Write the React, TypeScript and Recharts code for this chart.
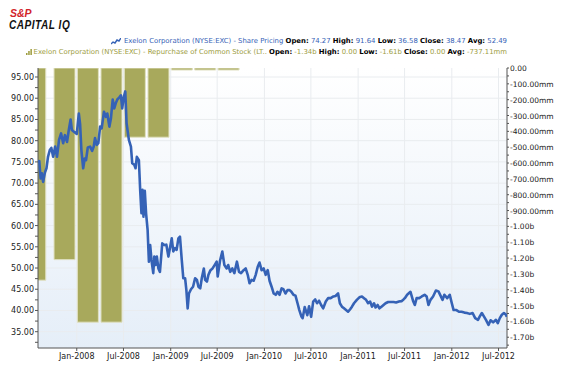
import React from 'react';
import { ComposedChart, LineChart, Line, Bar, XAxis, YAxis, CartesianGrid } from 'recharts';

// Exelon share price (USD)
const sharePrice: [string, number][] = [
  ['2007-08-04', 75.0], ['2007-08-08', 75.2], ['2007-08-13', 71.1], ['2007-08-18', 72.3], ['2007-08-23', 70.3],
  ['2007-08-30', 72.5], ['2007-09-05', 73.5], ['2007-09-11', 76.2], ['2007-09-18', 77.8], ['2007-09-24', 78.3],
  ['2007-10-01', 76.2], ['2007-10-09', 78.6], ['2007-10-16', 76.2], ['2007-10-24', 80.2], ['2007-11-01', 81.7],
  ['2007-11-09', 79.4], ['2007-11-16', 81.3], ['2007-11-24', 79.7], ['2007-12-01', 82.5], ['2007-12-08', 85.0],
  ['2007-12-13', 82.5], ['2007-12-21', 82.1], ['2008-01-01', 81.6], ['2008-01-09', 86.4], ['2008-01-14', 83.9],
  ['2008-01-19', 77.8], ['2008-01-26', 73.5], ['2008-02-01', 75.8], ['2008-02-06', 75.4], ['2008-02-13', 78.4],
  ['2008-02-22', 78.6], ['2008-03-01', 77.6], ['2008-03-07', 78.6], ['2008-03-12', 80.6], ['2008-03-19', 79.0],
  ['2008-03-25', 79.4], ['2008-04-01', 83.3], ['2008-04-07', 82.9], ['2008-04-16', 86.8], ['2008-04-24', 85.6],
  ['2008-04-29', 86.4], ['2008-05-07', 83.3], ['2008-05-13', 85.2], ['2008-05-20', 89.7], ['2008-05-26', 87.6],
  ['2008-06-02', 89.0], ['2008-06-07', 89.7], ['2008-06-15', 90.2], ['2008-06-21', 90.7], ['2008-06-26', 87.6],
  ['2008-07-02', 90.2], ['2008-07-08', 91.6], ['2008-07-13', 84.1], ['2008-07-22', 80.2], ['2008-07-30', 78.6],
  ['2008-08-04', 74.7], ['2008-08-12', 74.3], ['2008-08-17', 73.5], ['2008-08-22', 76.2], ['2008-08-30', 75.4],
  ['2008-09-04', 68.4], ['2008-09-09', 62.9], ['2008-09-13', 68.4], ['2008-09-17', 62.1], ['2008-09-22', 68.2],
  ['2008-09-27', 62.9], ['2008-10-03', 59.0], ['2008-10-08', 51.5], ['2008-10-13', 55.4], ['2008-10-18', 51.9],
  ['2008-10-25', 48.8], ['2008-10-29', 52.7], ['2008-11-03', 50.7], ['2008-11-08', 52.7], ['2008-11-14', 49.9],
  ['2008-11-20', 49.1], ['2008-11-29', 55.8], ['2008-12-07', 55.4], ['2008-12-15', 55.5], ['2008-12-23', 52.7],
  ['2009-01-05', 57.0], ['2009-01-11', 53.9], ['2009-01-18', 54.7], ['2009-01-24', 54.3], ['2009-01-31', 57.0],
  ['2009-02-06', 57.4], ['2009-02-13', 51.9], ['2009-02-19', 47.6], ['2009-02-26', 47.6], ['2009-03-03', 44.8],
  ['2009-03-08', 40.5], ['2009-03-13', 44.0], ['2009-03-21', 45.0], ['2009-03-29', 45.6], ['2009-04-06', 47.6],
  ['2009-04-13', 47.2], ['2009-04-19', 45.6], ['2009-04-26', 45.2], ['2009-05-02', 47.6], ['2009-05-10', 49.9],
  ['2009-05-15', 47.2], ['2009-05-22', 46.8], ['2009-05-28', 48.4], ['2009-06-05', 49.5], ['2009-06-13', 49.9],
  ['2009-06-21', 50.7], ['2009-06-29', 51.5], ['2009-07-03', 48.0], ['2009-07-12', 51.7], ['2009-07-21', 53.9],
  ['2009-07-29', 50.7], ['2009-08-07', 49.9], ['2009-08-13', 50.7], ['2009-08-21', 49.1], ['2009-08-29', 49.9],
  ['2009-09-06', 48.8], ['2009-09-16', 51.5], ['2009-09-24', 49.1], ['2009-10-02', 48.8], ['2009-10-12', 49.5],
  ['2009-10-20', 49.9], ['2009-10-28', 48.4], ['2009-11-04', 46.4], ['2009-11-12', 47.2], ['2009-11-20', 47.0],
  ['2009-11-28', 48.4], ['2009-12-06', 50.3], ['2009-12-13', 51.3], ['2009-12-21', 49.5], ['2009-12-29', 49.9],
  ['2010-01-06', 48.4], ['2010-01-14', 49.5], ['2010-01-21', 47.0], ['2010-01-29', 45.6], ['2010-02-06', 44.0],
  ['2010-02-14', 43.7], ['2010-02-21', 44.4], ['2010-03-01', 43.7], ['2010-03-09', 45.2], ['2010-03-16', 45.0],
  ['2010-03-24', 44.0], ['2010-04-01', 44.8], ['2010-04-09', 44.8], ['2010-04-16', 44.4], ['2010-04-24', 43.7],
  ['2010-05-02', 43.5], ['2010-05-10', 41.7], ['2010-05-17', 40.1], ['2010-05-25', 38.6], ['2010-05-30', 38.2],
  ['2010-06-07', 40.8], ['2010-06-17', 38.9], ['2010-06-24', 41.0], ['2010-07-02', 38.5], ['2010-07-10', 42.1],
  ['2010-07-18', 42.6], ['2010-07-25', 41.7], ['2010-08-02', 42.3], ['2010-08-10', 41.3], ['2010-08-18', 40.5],
  ['2010-08-28', 42.1], ['2010-09-06', 42.9], ['2010-09-16', 42.9], ['2010-09-27', 43.3], ['2010-10-05', 43.4],
  ['2010-10-15', 44.0], ['2010-10-22', 41.7], ['2010-10-30', 40.9], ['2010-11-07', 40.5], ['2010-11-15', 40.1],
  ['2010-11-23', 39.7], ['2010-12-01', 40.3], ['2010-12-08', 40.9], ['2010-12-16', 41.7], ['2010-12-27', 42.5],
  ['2011-01-06', 43.1], ['2011-01-16', 43.3], ['2011-01-24', 42.9], ['2011-02-01', 42.5], ['2011-02-09', 41.7],
  ['2011-02-17', 42.1], ['2011-02-24', 40.9], ['2011-03-04', 41.7], ['2011-03-10', 40.7], ['2011-03-18', 41.3],
  ['2011-03-25', 40.5], ['2011-04-02', 40.9], ['2011-04-10', 41.3], ['2011-04-18', 41.7], ['2011-04-28', 42.0],
  ['2011-05-09', 42.0], ['2011-05-19', 42.0], ['2011-05-29', 41.9], ['2011-06-09', 42.1], ['2011-06-19', 42.2],
  ['2011-06-27', 42.6], ['2011-07-02', 42.9], ['2011-07-11', 43.7], ['2011-07-24', 44.4], ['2011-08-04', 42.1],
  ['2011-08-10', 41.3], ['2011-08-17', 42.9], ['2011-08-27', 42.9], ['2011-09-06', 43.3], ['2011-09-17', 43.7],
  ['2011-09-25', 43.3], ['2011-10-02', 41.3], ['2011-10-10', 42.5], ['2011-10-20', 43.3], ['2011-10-31', 44.7],
  ['2011-11-10', 44.5], ['2011-11-18', 43.5], ['2011-11-26', 42.5], ['2011-12-03', 43.7], ['2011-12-14', 42.9],
  ['2011-12-24', 43.7], ['2012-01-01', 41.7], ['2012-01-08', 40.1], ['2012-01-19', 40.1], ['2012-01-29', 39.7],
  ['2012-02-08', 39.7], ['2012-02-19', 39.5], ['2012-02-29', 39.4], ['2012-03-11', 39.2], ['2012-03-22', 39.4],
  ['2012-04-01', 38.2], ['2012-04-12', 37.8], ['2012-04-19', 38.6], ['2012-04-27', 39.4], ['2012-05-05', 38.6],
  ['2012-05-13', 37.8], ['2012-05-23', 36.6], ['2012-05-31', 37.7], ['2012-06-10', 37.2], ['2012-06-21', 37.8],
  ['2012-06-28', 37.0], ['2012-07-06', 38.2], ['2012-07-14', 39.0], ['2012-07-22', 39.4], ['2012-07-30', 39.0],
  ['2012-08-02', 38.5],
];

// Quarterly repurchase of common stock (USD)
const repurchaseDates = ['2007-07-24', '2007-11-15', '2008-02-14', '2008-05-16', '2008-08-15', '2008-11-15', '2009-02-14', '2009-05-16', '2009-08-15'];
const repurchaseValues = [-1.34e9, -1.21e9, -1.605e9, -1.605e9, -0.437e9, -0.437e9, 0, 0, 0];

const xTickDates = ['2008-01-01', '2008-07-01', '2009-01-01', '2009-07-01', '2010-01-01', '2010-07-01', '2011-01-01', '2011-07-01', '2012-01-01', '2012-07-01'];
const xStart = '2007-08-03';
const xEnd = '2012-08-03';
const priceTicks = [32.5, 35, 37.5, 40, 42.5, 45, 47.5, 50, 52.5, 55, 57.5, 60, 62.5, 65, 67.5, 70, 72.5, 75, 77.5, 80, 82.5, 85, 87.5, 90, 92.5, 95];
const priceMajor = [35, 40, 45, 50, 55, 60, 65, 70, 75, 80, 85, 90, 95];
const repTicks = [0, -0.05e9, -0.1e9, -0.15e9, -0.2e9, -0.25e9, -0.3e9, -0.35e9, -0.4e9, -0.45e9, -0.5e9, -0.55e9, -0.6e9, -0.65e9, -0.7e9, -0.75e9, -0.8e9, -0.85e9, -0.9e9, -0.95e9, -1.0e9, -1.05e9, -1.1e9, -1.15e9, -1.2e9, -1.25e9, -1.3e9, -1.35e9, -1.4e9, -1.45e9, -1.5e9, -1.55e9, -1.6e9, -1.65e9, -1.7e9, -1.75e9];

const ts = (s: string) => new Date(s + 'T00:00:00Z').getTime();
const priceData = sharePrice.map(([d, p]) => ({ t: ts(d), p }));
const barData = repurchaseDates.map((d, i) => ({ t: ts(d), rep: repurchaseValues[i] }));
const xTicks = xTickDates.map(ts);
const xDomain = [ts(xStart), ts(xEnd)];
const priceDomain = [31.16, 97.12];
const repDomain = [-1.768e9, 0];

const MONTHS = ['Jan', 'Feb', 'Mar', 'Apr', 'May', 'Jun', 'Jul', 'Aug', 'Sep', 'Oct', 'Nov', 'Dec'];
const fmtDate = (v: number) => {
  const d = new Date(v);
  return `${MONTHS[d.getUTCMonth()]}-${d.getUTCFullYear()}`;
};
const fmtRep = (v: number) => {
  if (v === 0) return '0.00';
  if (Math.abs(v) < 1e9 - 1) return `${(v / 1e6).toFixed(2)}mm`;
  return `${(v / 1e9).toFixed(2)}b`;
};

const FONT = '"DejaVu Sans", Verdana, sans-serif';
const AXIS = '#555';
const TXT = '#222';
const BLUE = '#3562b6';
const OLIVE = '#a8a95c';

const LeftTick = (props: any) => {
  const { x, y, payload } = props;
  const v = payload.value;
  if (Math.round(v * 2) % 10 !== 0) return null;
  return (
    <text x={x} y={y} dy={3} textAnchor="end" fontSize={8} fontFamily={FONT} fill={TXT}>
      {v.toFixed(2)}
    </text>
  );
};

const RightTick = (props: any) => {
  const { x, y, payload } = props;
  const v = payload.value;
  if (Math.round(v / 0.05e9) % 2 !== 0) return null;
  return (
    <text x={x} y={y} dy={3} textAnchor="start" fontSize={7.5} fontFamily={FONT} fill={TXT}>
      {fmtRep(v)}
    </text>
  );
};

const margin = { top: 68, right: 0, bottom: 0, left: 0 };

export default function App() {
  return (
    <div style={{ position: 'absolute', left: 0, top: 0, width: 571, height: 376, background: '#fff', overflow: 'hidden' }}>
      <div style={{ position: 'absolute', left: 0, top: 0 }}>
        <ComposedChart width={571} height={376} data={barData} margin={margin}>
          <defs>
            <linearGradient id="plotBg" x1="0" y1="0" x2="0" y2="1">
              <stop offset="0" stopColor="#ffffff" />
              <stop offset="1" stopColor="#e5eef8" />
            </linearGradient>
          </defs>
          <CartesianGrid
            yAxisId="price"
            fill="url(#plotBg)"
            fillOpacity={1}
            stroke="#e9ecef"
            horizontalValues={priceMajor}
            verticalValues={xTicks}
          />
          <XAxis
            dataKey="t"
            type="number"
            domain={xDomain}
            ticks={xTicks}
            interval={0}
            allowDataOverflow
            tickFormatter={fmtDate}
            height={28}
            tickSize={3}
            tickMargin={2}
            stroke={AXIS}
            tick={{ fontSize: 8, fontFamily: FONT, fill: TXT }}
          />
          <YAxis
            yAxisId="price"
            orientation="left"
            width={38}
            type="number"
            domain={priceDomain}
            ticks={priceTicks}
            interval={0}
            allowDataOverflow
            tickSize={3}
            tickMargin={1}
            stroke={AXIS}
            tick={<LeftTick />}
          />
          <YAxis
            yAxisId="rep"
            orientation="right"
            width={64}
            type="number"
            domain={repDomain}
            ticks={repTicks}
            interval={0}
            allowDataOverflow
            tickSize={2}
            tickMargin={1}
            stroke={AXIS}
            tick={<RightTick />}
          />
          <Bar
            dataKey="rep"
            yAxisId="rep"
            barSize={21}
            fill={OLIVE}
            stroke="#e0e0c2"
            strokeWidth={1}
            minPointSize={-2}
            isAnimationActive={false}
          />
        </ComposedChart>
      </div>
      <div style={{ position: 'absolute', left: 0, top: 0 }}>
        <LineChart width={571} height={376} data={priceData} margin={margin}>
          <XAxis dataKey="t" type="number" domain={xDomain} ticks={xTicks} allowDataOverflow height={28} axisLine={false} tickLine={false} tick={false} />
          <YAxis yAxisId="price" orientation="left" width={38} type="number" domain={priceDomain} allowDataOverflow axisLine={false} tickLine={false} tick={false} />
          <YAxis yAxisId="rep" orientation="right" width={64} type="number" domain={repDomain} allowDataOverflow axisLine={false} tickLine={false} tick={false} />
          <Line dataKey="p" yAxisId="price" type="linear" stroke={BLUE} strokeWidth={2.6} strokeLinejoin="round" dot={false} isAnimationActive={false} />
        </LineChart>
      </div>

      <div style={{ position: 'absolute', left: 10, top: 7, fontFamily: '"Liberation Sans", Arial, sans-serif', fontWeight: 'bold', fontStyle: 'italic', fontSize: 10.5, color: '#d2232a', lineHeight: '12px' }}>
        S&amp;P
      </div>
      <div style={{ position: 'absolute', left: 9, top: 18, fontFamily: '"Liberation Sans", Arial, sans-serif', fontWeight: 'bold', fontStyle: 'italic', fontSize: 12, color: '#111', lineHeight: '14px', transform: 'scaleX(0.84)', transformOrigin: 'left', letterSpacing: 0.6, whiteSpace: 'nowrap' }}>
        CAPITAL IQ
      </div>

      <div style={{ position: 'absolute', right: 64, top: 37, fontFamily: FONT, fontSize: 6.9, lineHeight: '9px', whiteSpace: 'nowrap', color: BLUE }}>
        <svg width={10} height={7} style={{ marginRight: 3, verticalAlign: 'middle' }}>
          <polyline points="0,6 2,4 4,5 6,2 8,3 10,0" fill="none" stroke={BLUE} strokeWidth={1.4} />
        </svg>
        Exelon Corporation (NYSE:EXC) - Share Pricing <b style={{ color: '#000' }}>Open:</b> 74.27 <b style={{ color: '#000' }}>High:</b> 91.64 <b style={{ color: '#000' }}>Low:</b> 36.58 <b style={{ color: '#000' }}>Close:</b> 38.47 <b style={{ color: '#000' }}>Avg:</b> 52.49
      </div>
      <div style={{ position: 'absolute', right: 64, top: 48, fontFamily: FONT, fontSize: 6.9, lineHeight: '9px', whiteSpace: 'nowrap', color: '#9c9c3e' }}>
        <svg width={6} height={6} style={{ marginRight: 2, verticalAlign: 'middle' }}>
          <rect x={0} y={4} width={1.5} height={2} fill="#9c9c3e" />
          <rect x={2.2} y={2} width={1.5} height={4} fill="#9c9c3e" />
          <rect x={4.4} y={0} width={1.5} height={6} fill="#9c9c3e" />
        </svg>
        Exelon Corporation (NYSE:EXC) - Repurchase of Common Stock (LT.. <b style={{ color: '#000' }}>Open:</b> -1.34b <b style={{ color: '#000' }}>High:</b> 0.00 <b style={{ color: '#000' }}>Low:</b> -1.61b <b style={{ color: '#000' }}>Close:</b> 0.00 <b style={{ color: '#000' }}>Avg:</b> -737.11mm
      </div>
    </div>
  );
}
